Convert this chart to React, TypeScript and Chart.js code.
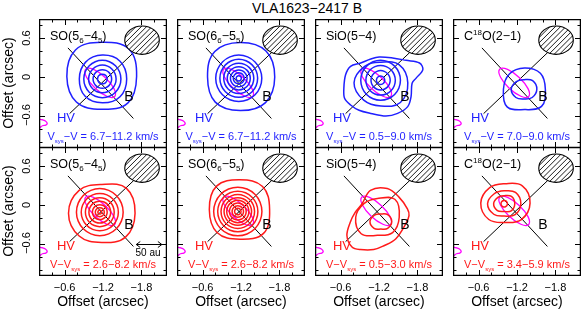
import React, { useEffect, useRef } from "react";
import { Chart, registerables } from "chart.js";
Chart.register(...registerables);

// ---------- axis values ----------
const TITLE = "VLA1623−2417 B";
const AXIS_TITLE = "Offset (arcsec)";
const X_MAJOR = [-0.6, -1.2, -1.8];
const X_MINOR = [-0.4, -0.8, -1.0, -1.4, -1.6, -2.0];
const Y_MAJOR = [0.6, 0, -0.6];
const Y_MINOR = [0.8, 0.4, 0.2, -0.2, -0.4, -0.8, -1.0];
const X_TICK_LABELS = ["−0.6", "−1.2", "−1.8"];
const Y_TICK_LABELS = ["0.6", "0", "−0.6"];

// ---------- common overlays (arcsec) ----------
const AXIS_LINE_1 = [[-0.652, 0.452], [-1.675, -0.642]];
const AXIS_LINE_2 = [[-0.678, -0.567], [-1.728, 0.426]];
const DISK = [
  [-1.383, -0.301], [-1.372, -0.18], [-1.234, -0.006], [-1.052, 0.118],
  [-0.929, 0.121], [-0.941, 0.0], [-1.078, -0.174], [-1.261, -0.298],
];
const DISK_EDGE = [
  [-0.2, -0.655], [-0.25, -0.662], [-0.3, -0.682], [-0.328, -0.718],
  [-0.305, -0.745], [-0.255, -0.755], [-0.225, -0.775], [-0.2, -0.8],
];
const BEAM = [-1.81, 0.572, 0.27, 0.22]; // centre x, centre y, semi-axis x, semi-axis y
const SCALE_BAR = [-1.72, -2.12, -0.605]; // x from, x to, y

// ---------- contours: [cx, cy, r(0°), r(45°), ... r(315°)] or [cx, cy, r] ----------
const SO56_BLUE = [
  [-1.18, 0.01, 0.545, 0.6, 0.53, 0.58, 0.545, 0.56, 0.51, 0.58],
  [-1.19, -0.03, 0.38, 0.39, 0.37, 0.37, 0.36, 0.38, 0.37, 0.39],
  [-1.19, -0.03, 0.29],
  [-1.19, -0.03, 0.215],
  [-1.19, -0.03, 0.145],
  [-1.19, -0.03, 0.075],
];
const SO65_BLUE = [
  [-1.187, 0.0, 0.54, 0.57, 0.535, 0.56, 0.51, 0.55, 0.52, 0.56],
  [-1.165, -0.02, 0.36],
  [-1.165, -0.02, 0.295],
  [-1.165, -0.02, 0.235],
  [-1.165, -0.02, 0.18],
  [-1.165, -0.02, 0.13],
  [-1.165, -0.02, 0.085],
  [-1.165, -0.02, 0.04],
];
const SIO_BLUE_OUTLINE = [
  [-0.651, -0.173], [-0.678, 0.035], [-0.756, 0.166], [-0.914, 0.218], [-1.071, 0.28],
  [-1.203, 0.311], [-1.413, 0.296], [-1.623, 0.259], [-1.833, 0.218], [-1.885, 0.114],
  [-1.78, -0.017], [-1.717, -0.095], [-1.701, -0.303], [-1.649, -0.459], [-1.491, -0.564],
  [-1.308, -0.605], [-1.071, -0.564], [-0.888, -0.515], [-0.756, -0.433], [-0.662, -0.329],
];
const SIO_BLUE = [
  [-1.23, -0.09, 0.42, 0.4, 0.32, 0.36, 0.42, 0.38, 0.36, 0.43],
  [-1.225, -0.05, 0.31],
  [-1.225, -0.05, 0.23],
  [-1.225, -0.05, 0.15],
  [-1.225, -0.05, 0.065],
];
const C18O_BLUE = [
  [-1.318, -0.19, 0.325, 0.35, 0.33, 0.335, 0.33, 0.385, 0.315, 0.375],
  [-1.31, -0.19, 0.2, 0.19, 0.15, 0.17, 0.2, 0.18, 0.15, 0.18],
];
const SO56_RED = [
  [-1.181, -0.126, 0.52, 0.545, 0.445, 0.5, 0.52, 0.5, 0.455, 0.525],
  [-1.15, -0.11, 0.365],
  [-1.15, -0.11, 0.29],
  [-1.15, -0.11, 0.225],
  [-1.15, -0.11, 0.17],
  [-1.15, -0.11, 0.115],
  [-1.15, -0.11, 0.07],
  [-1.15, -0.11, 0.03],
];
const SO65_RED = [
  [-1.181, -0.069, 0.466, 0.503, 0.46, 0.513, 0.476, 0.503, 0.46, 0.524],
  [-1.15, -0.1, 0.377],
  [-1.15, -0.1, 0.314],
  [-1.15, -0.1, 0.262],
  [-1.15, -0.1, 0.215],
  [-1.15, -0.1, 0.173],
  [-1.15, -0.1, 0.131],
  [-1.15, -0.1, 0.089],
  [-1.15, -0.1, 0.05],
];
const SIO_RED_OUTLINE = [
  [-1.066, 0.228], [-1.329, 0.255], [-1.512, 0.123], [-1.644, -0.058], [-1.669, -0.163],
  [-1.617, -0.292], [-1.46, -0.527], [-1.276, -0.631], [-1.118, -0.69], [-0.909, -0.69],
  [-0.778, -0.65], [-0.699, -0.475], [-0.751, -0.267], [-0.83, -0.111], [-0.935, 0.02],
];
const SIO_RED = [
  [-1.176, -0.19, 0.34, 0.39, 0.29, 0.3, 0.34, 0.36, 0.28, 0.335],
  [-1.229, -0.256, 0.17, 0.15, 0.117, 0.14, 0.17, 0.15, 0.117, 0.15],
];
const C18O_RED = [
  [-1.014, 0.03, 0.39, 0.38, 0.3, 0.34, 0.38, 0.36, 0.3, 0.36],
  [-1.0, 0.02, 0.26, 0.25, 0.2, 0.22, 0.26, 0.23, 0.19, 0.24],
  [-1.0, 0.02, 0.165, 0.16, 0.125, 0.14, 0.165, 0.15, 0.12, 0.155],
  [-1.0, 0.02, 0.05],
];

const BLUE = "#1f1fff";
const RED = "#ff1a1a";
const MAGENTA = "#ff00ff";

const SPECIES = ["SO56", "SO65", "SIO", "C18O"];
const BLUE_RANGES = ["6.7−11.2", "6.7−11.2", "0.5−9.0", "7.0−9.0"];
const RED_RANGES = ["2.6−8.2", "2.6−8.2", "0.5−3.0", "3.4−5.9"];

const PANELS = [
  { species: 0, row: 0, color: BLUE, range: BLUE_RANGES[0], rings: SO56_BLUE, outline: null },
  { species: 1, row: 0, color: BLUE, range: BLUE_RANGES[1], rings: SO65_BLUE, outline: null },
  { species: 2, row: 0, color: BLUE, range: BLUE_RANGES[2], rings: SIO_BLUE, outline: SIO_BLUE_OUTLINE },
  { species: 3, row: 0, color: BLUE, range: BLUE_RANGES[3], rings: C18O_BLUE, outline: null },
  { species: 0, row: 1, color: RED, range: RED_RANGES[0], rings: SO56_RED, outline: null },
  { species: 1, row: 1, color: RED, range: RED_RANGES[1], rings: SO65_RED, outline: null },
  { species: 2, row: 1, color: RED, range: RED_RANGES[2], rings: SIO_RED, outline: SIO_RED_OUTLINE },
  { species: 3, row: 1, color: RED, range: RED_RANGES[3], rings: C18O_RED, outline: null },
];

// ---------- layout ----------
const COL_LEFT = [39, 177, 315, 453];
const ROW_TOP = [19, 147];
const PW = 128;
const PH = 129;
const FONT = '"Liberation Sans", Arial, Helvetica, sans-serif';

function ringPoints(c: number[]) {
  const [cx, cy, ...rs] = c;
  const radii = rs.length === 1 ? new Array(16).fill(rs[0]) : rs;
  const n = radii.length;
  return radii.map((r: number, k: number) => {
    const a = (2 * Math.PI * k) / n;
    return { x: cx - r * Math.cos(a), y: cy + r * Math.sin(a) };
  });
}
const pairs = (a: number[][]) => a.map(([x, y]) => ({ x, y }));

function ds(data: any[], color: string, width: number, closed: boolean, tension: number) {
  return {
    data,
    borderColor: color,
    borderWidth: width,
    pointRadius: 0,
    pointHoverRadius: 0,
    tension,
    fill: false,
    closed,
  };
}

const loopPlugin = {
  id: "loopPlugin",
  afterDatasetsUpdate(chart: any) {
    chart.data.datasets.forEach((d: any, i: number) => {
      if (!d.closed) return;
      const line = chart.getDatasetMeta(i).dataset;
      if (line) {
        line._loop = true;
        line._fullLoop = true;
        line._pointsUpdated = false;
        line._segments = undefined;
        line._path = undefined;
      }
    });
  },
};

const beamPlugin = {
  id: "beamPlugin",
  afterDatasetsDraw(chart: any) {
    const { ctx, scales } = chart;
    const { x, y } = scales;
    const [bx, by, ax, ay] = BEAM;
    const cx = x.getPixelForValue(bx);
    const cy = y.getPixelForValue(by);
    const rx = Math.abs(x.getPixelForValue(bx + ax) - cx);
    const ry = Math.abs(y.getPixelForValue(by + ay) - cy);
    ctx.save();
    ctx.beginPath();
    ctx.ellipse(cx, cy, rx, ry, 0, 0, Math.PI * 2);
    ctx.fillStyle = "#fff";
    ctx.fill();
    ctx.save();
    ctx.clip();
    ctx.beginPath();
    const m = rx + ry + 4;
    for (let d = -m; d <= m; d += 5.3) {
      ctx.moveTo(cx + d - m, cy + m);
      ctx.lineTo(cx + d + m, cy - m);
    }
    ctx.strokeStyle = "#000";
    ctx.lineWidth = 0.9;
    ctx.stroke();
    ctx.restore();
    ctx.beginPath();
    ctx.ellipse(cx, cy, rx, ry, 0, 0, Math.PI * 2);
    ctx.strokeStyle = "#000";
    ctx.lineWidth = 1.1;
    ctx.stroke();
    ctx.restore();
  },
};

const framePlugin = {
  id: "framePlugin",
  afterDraw(chart: any) {
    const { ctx, chartArea, scales } = chart;
    const { left, right, top, bottom } = chartArea;
    const { x, y } = scales;
    ctx.save();
    ctx.strokeStyle = "#000";
    ctx.lineWidth = 1;
    ctx.beginPath();
    const tx = (vals: number[], len: number) =>
      vals.forEach((v) => {
        const p = Math.round(x.getPixelForValue(v)) + 0.5;
        ctx.moveTo(p, top);
        ctx.lineTo(p, top + len);
        ctx.moveTo(p, bottom);
        ctx.lineTo(p, bottom - len);
      });
    const ty = (vals: number[], len: number) =>
      vals.forEach((v) => {
        const p = Math.round(y.getPixelForValue(v)) + 0.5;
        ctx.moveTo(left, p);
        ctx.lineTo(left + len, p);
        ctx.moveTo(right, p);
        ctx.lineTo(right - len, p);
      });
    tx(X_MAJOR, 6);
    tx(X_MINOR, 3.5);
    ty(Y_MAJOR, 6);
    ty(Y_MINOR, 3.5);
    ctx.stroke();
    ctx.lineWidth = 1.3;
    ctx.strokeRect(left + 0.6, top + 0.6, right - left - 1.2, bottom - top - 1.2);
    ctx.restore();
  },
};

const arrowPlugin = {
  id: "arrowPlugin",
  afterDatasetsDraw(chart: any) {
    const { ctx, scales } = chart;
    const [x0, x1, yv] = SCALE_BAR;
    const p0 = scales.x.getPixelForValue(x0);
    const p1 = scales.x.getPixelForValue(x1);
    const py = Math.round(scales.y.getPixelForValue(yv)) + 0.5;
    ctx.save();
    ctx.strokeStyle = "#000";
    ctx.lineWidth = 1;
    ctx.beginPath();
    ctx.moveTo(p0, py);
    ctx.lineTo(p1, py);
    ctx.moveTo(p0 + 4, py - 3);
    ctx.lineTo(p0, py);
    ctx.lineTo(p0 + 4, py + 3);
    ctx.moveTo(p1 - 4, py - 3);
    ctx.lineTo(p1, py);
    ctx.lineTo(p1 - 4, py + 3);
    ctx.stroke();
    ctx.restore();
  },
};

function Panel({ panel, left, top, arrow }: any) {
  const ref = useRef<HTMLCanvasElement>(null);
  useEffect(() => {
    const datasets: any[] = [];
    if (panel.outline) datasets.push(ds(pairs(panel.outline), panel.color, 1.5, true, 0.35));
    panel.rings.forEach((c: number[]) => datasets.push(ds(ringPoints(c), panel.color, 1.5, true, 0.4)));
    datasets.push(ds(pairs(DISK), MAGENTA, 1.3, true, 0.4));
    datasets.push(ds(pairs(DISK_EDGE), MAGENTA, 1.3, false, 0.4));
    datasets.push(ds(pairs(AXIS_LINE_1), "#000", 1, false, 0));
    datasets.push(ds(pairs(AXIS_LINE_2), "#000", 1, false, 0));
    const plugins: any[] = [loopPlugin, beamPlugin, framePlugin];
    if (arrow) plugins.push(arrowPlugin);
    const chart = new Chart(ref.current as HTMLCanvasElement, {
      type: "line",
      data: { datasets },
      options: {
        animation: false,
        responsive: false,
        maintainAspectRatio: false,
        events: [],
        layout: { padding: 0 },
        plugins: { legend: { display: false }, tooltip: { enabled: false } },
        scales: {
          x: { type: "linear", min: -2.2, max: -0.2, reverse: true, display: false },
          y: { type: "linear", min: -1.1, max: 0.9, display: false },
        },
      } as any,
      plugins,
    } as any);
    return () => chart.destroy();
  }, []);
  return (
    <canvas
      ref={ref}
      width={PW}
      height={PH}
      style={{ position: "absolute", left, top, width: PW, height: PH }}
    />
  );
}

function Txt({ x, y, size, color = "#000", rot = false, align = "center", children }: any) {
  const tx = align === "left" ? "0" : "-50%";
  return (
    <div
      style={{
        position: "absolute",
        left: x,
        top: y,
        fontSize: size,
        color,
        lineHeight: 1,
        whiteSpace: "nowrap",
        transform: `translate(${tx},-50%)${rot ? " rotate(-90deg)" : ""}`,
      }}
    >
      {children}
    </div>
  );
}

const Sub = ({ children, size = 8, dy = 3 }: any) => (
  <span style={{ fontSize: size, position: "relative", top: dy }}>{children}</span>
);
const Sup = ({ children, size = 8, dy = -5 }: any) => (
  <span style={{ fontSize: size, position: "relative", top: dy }}>{children}</span>
);

function speciesLabel(key: string) {
  if (key === "SO56")
    return (
      <>
        SO(5<Sub>6</Sub>−4<Sub>5</Sub>)
      </>
    );
  if (key === "SO65")
    return (
      <>
        SO(6<Sub>6</Sub>−5<Sub>5</Sub>)
      </>
    );
  if (key === "SIO") return <>SiO(5−4)</>;
  return (
    <>
      C<Sup>18</Sup>O(2−1)
    </>
  );
}

export default function App() {
  return (
    <div
      style={{
        position: "absolute",
        left: 0,
        top: 0,
        width: 581,
        height: 309,
        background: "#fff",
        fontFamily: FONT,
        overflow: "hidden",
      }}
    >
      <Txt x={307} y={8} size={14}>
        {TITLE}
      </Txt>
      {PANELS.map((p, i) => {
        const col = i % 4;
        const left = COL_LEFT[col];
        const top = ROW_TOP[p.row];
        return (
          <React.Fragment key={i}>
            <Panel panel={p} left={left} top={top} arrow={i === 4} />
            <Txt x={left + 11} y={top + 17} size={12.5} align="left">
              {speciesLabel(SPECIES[p.species])}
            </Txt>
            <Txt x={left + 27} y={top + 98} size={13} color={p.color}>
              HV
            </Txt>
            <Txt x={left + 90} y={top + 77} size={14}>
              B
            </Txt>
            <Txt x={left + 64} y={top + 117} size={11} color={p.color}>
              {p.row === 0 ? (
                <>
                  V<Sub size={6} dy={2.5}>sys</Sub>−V = {p.range} km/s
                </>
              ) : (
                <>
                  V−V<Sub size={6} dy={2.5}>sys</Sub> = {p.range} km/s
                </>
              )}
            </Txt>
          </React.Fragment>
        );
      })}
      <Txt x={COL_LEFT[0] + 109} y={ROW_TOP[1] + 106} size={10}>
        50 au
      </Txt>
      {ROW_TOP.map((top, r) => (
        <React.Fragment key={"y" + r}>
          <Txt x={8} y={top + 64} size={14} rot>
            {AXIS_TITLE}
          </Txt>
          {Y_MAJOR.map((v, k) => (
            <Txt key={k} x={26} y={top + (0.9 - v) * 64} size={11} rot>
              {Y_TICK_LABELS[k]}
            </Txt>
          ))}
        </React.Fragment>
      ))}
      {COL_LEFT.map((left, c) => (
        <React.Fragment key={"x" + c}>
          {X_MAJOR.map((v, k) => (
            <Txt key={k} x={left + (-0.2 - v) * 64} y={287} size={11}>
              {X_TICK_LABELS[k]}
            </Txt>
          ))}
          <Txt x={left + 64} y={301} size={14}>
            {AXIS_TITLE}
          </Txt>
        </React.Fragment>
      ))}
    </div>
  );
}
